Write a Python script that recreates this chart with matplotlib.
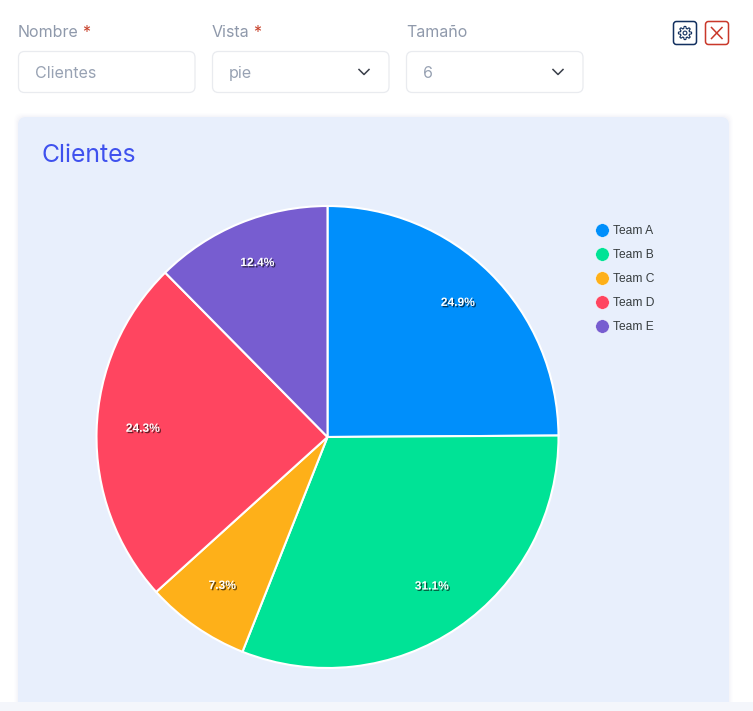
import numpy as np
import matplotlib
matplotlib.use("Agg")
import matplotlib.pyplot as plt
import matplotlib.patheffects as pe
from matplotlib.lines import Line2D
from matplotlib.patches import FancyBboxPatch, Polygon, Circle

W, H = 753, 711
plt.rcParams['font.family'] = ['Inter', 'DejaVu Sans']

teams = ["Team A", "Team B", "Team C", "Team D", "Team E"]
shares = [24.9, 31.1, 7.3, 24.3, 12.4]
colors = ["#008ffb", "#00e396", "#feb019", "#ff4560", "#775dd0"]

field_labels = ["Nombre", "Vista", "Tamaño"]
field_required = [True, True, False]
field_values = ["Clientes", "pie", "6"]
field_left = [18, 212, 406]
field_has_arrow = [False, True, True]


def px(n):
    # css pixels to points
    return n * 72 / 100


def yy(y):
    # the reference is measured from the top
    return H - y


def box(ax, x0, y0, x1, y1, r, face, edge="none", lw=1.0, z=1, alpha=1.0):
    p = FancyBboxPatch((x0, yy(y1)), x1 - x0, y1 - y0,
                       boxstyle="round,pad=0,rounding_size=%s" % r,
                       fc=face, ec=edge, lw=lw, zorder=z, alpha=alpha)
    ax.add_patch(p)


fig = plt.figure(figsize=(W / 100, H / 100), dpi=100, facecolor="white")
ax = fig.add_axes([0, 0, 1, 1])
ax.set_xlim(0, W)
ax.set_ylim(0, H)

# card shadow + card
for grow, a in [(4, 0.006), (3, 0.009), (2, 0.012), (1, 0.016)]:
    box(ax, 18 - grow, 117 - grow, 729 + grow, 720, 8, "#3a4a80", z=1, alpha=a)
box(ax, 18, 117, 729, 720, 8, "#e8effc", z=2)
ax.fill_between([0, W], 0, yy(702), color="#f4f6fb", lw=0, zorder=3)

# form fields
for label, req, value, left, arrow in zip(field_labels, field_required, field_values,
                                          field_left, field_has_arrow):
    t = ax.text(left, yy(32.5), label, fontsize=px(16), color="#8f99ab", va="center", zorder=5)
    if req:
        fig.canvas.draw()
        bb = t.get_window_extent()
        ax.text(bb.x1 + 3.5, yy(32.5), "*", fontsize=px(16), color="#c9452f", va="center", zorder=5)
    box(ax, left + 0.5, 51.5, left + 177, 92.5, 6, "white", "#e9ebef", 0.9, z=4)
    ax.text(left + 17, yy(73.5), value, fontsize=px(16), color="#98a2b3", va="center", zorder=5)
    if arrow:
        cx = left + 152
        ax.plot([cx - 5, cx, cx + 5], [yy(69.5), yy(74.5), yy(69.5)],
                color="#3a3f4a", lw=1.1, zorder=5)

# settings button
box(ax, 673.5, 21.5, 696.5, 44.5, 3, "white", "#12305f", 1.1, z=4)
ang = np.linspace(0, 2 * np.pi, 97)
rad = 5.6 + 1.0 * np.clip(2.2 * np.cos(8 * ang), -1, 1)
ax.add_patch(Polygon(np.column_stack([685 + rad * np.cos(ang), yy(33) + rad * np.sin(ang)]),
                     closed=True, fc="none", ec="#12305f", lw=0.8, zorder=5))
ax.add_patch(Circle((685, yy(33)), 1.9, fc="none", ec="#12305f", lw=0.8, zorder=5))

# close button
box(ax, 705.5, 21.5, 728.5, 44.5, 3, "white", "#c9382a", 1.1, z=4)
ax.plot([711.5, 722], [yy(27.5), yy(38.5)], color="#c9382a", lw=1.1, zorder=5)
ax.plot([722, 711.5], [yy(27.5), yy(38.5)], color="#c9382a", lw=1.1, zorder=5)

ax.text(42, yy(156), "Clientes", fontsize=px(24.7), color="#3f51ee", va="center", zorder=5)

# pie
wedges, texts, autotexts = ax.pie(
    shares, colors=colors, startangle=90, counterclock=False,
    center=(327.5, yy(437)), radius=231, frame=True,
    wedgeprops={"edgecolor": "white", "linewidth": 1.5, "zorder": 5},
    autopct="%.1f%%", pctdistance=0.80,
    textprops={"zorder": 6},
)
for t in autotexts:
    t.set_y(t.get_position()[1] + 3)
    t.set_fontfamily("Liberation Sans")
    t.set_fontsize(px(12))
    t.set_fontweight("bold")
    t.set_color("white")
    t.set_zorder(7)
    t.set_path_effects([pe.SimplePatchShadow(offset=(1, -1), shadow_rgbFace="#000000", alpha=0.6),
                        pe.Normal()])

handles = [Line2D([], [], ls="none", marker="o", ms=px(13.5), mfc=c, mec="white", mew=0.3)
           for c in colors]
leg = ax.legend(handles, teams, loc="upper left", bbox_to_anchor=(594, yy(225)),
                bbox_transform=ax.transData, frameon=False, borderpad=0, borderaxespad=0,
                handlelength=1.3, handletextpad=0.25, labelspacing=1.0,
                prop={"family": "Liberation Sans", "size": px(12)}, labelcolor="#373d3f")
leg.set_zorder(8)

ax.set_xlim(0, W)
ax.set_ylim(0, H)
ax.set_aspect("auto")
ax.axis("off")

fig.savefig("out.png", dpi=100)
